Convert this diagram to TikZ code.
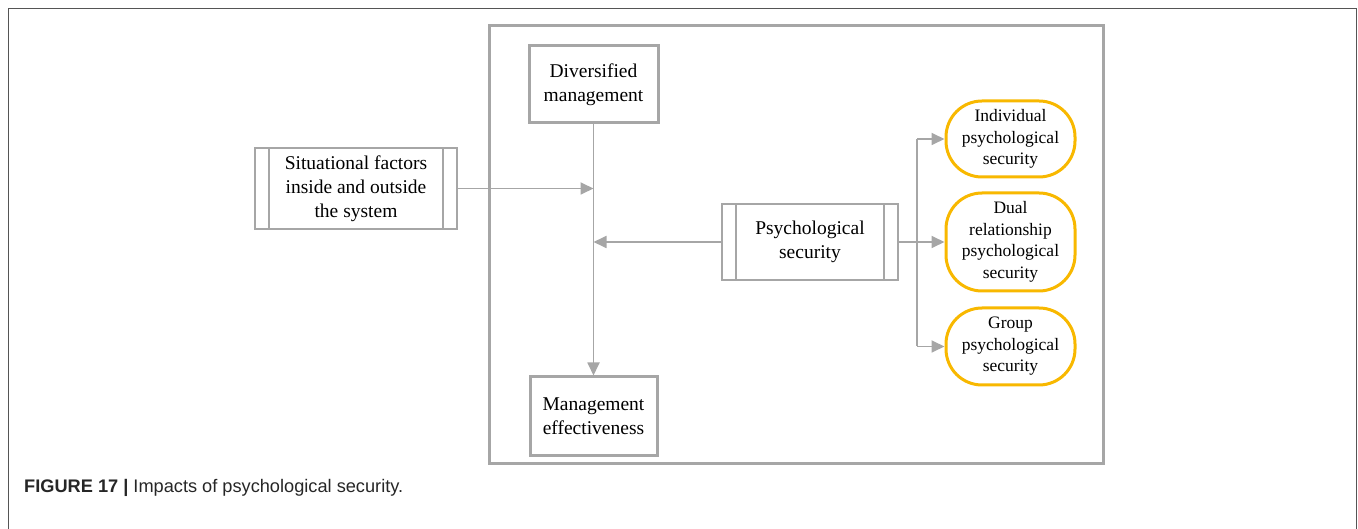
\documentclass[tikz,border=0pt]{standalone}
\usepackage{fontspec}
\setmainfont{Liberation Serif}
\newfontfamily\capfont{Liberation Sans}
\usetikzlibrary{arrows.meta}
\definecolor{linegray}{RGB}{166,166,166}
\definecolor{framegray}{RGB}{85,85,85}
\definecolor{ovalorange}{RGB}{248,184,0}
\tikzset{
  thickbox/.style={draw=linegray, line width=3pt, fill=white, align=center,
    font=\fontsize{19.5}{24}\selectfont, inner sep=0pt},
  procbox/.style={draw=linegray, line width=1.8pt, fill=white, align=center,
    font=\fontsize{19.5}{24}\selectfont, inner sep=0pt},
  ovalbox/.style={draw=ovalorange, line width=3pt, fill=white, align=center,
    rounded corners=36pt, font=\fontsize{17.5}{21.5}\selectfont, inner sep=0pt,
    minimum width=129pt},
  conn/.style={draw=linegray, line width=1.8pt},
  arr/.style={conn, -{Triangle[length=13pt,width=12pt]}, color=linegray}
}
\begin{document}
\begin{tikzpicture}[x=1pt,y=-1pt]
\useasboundingbox (0,0) rectangle (1358,529);
% page frame, open at the bottom
\draw[framegray, line width=1pt] (8.5,529) -- (8.5,8.5) -- (1356.5,8.5) -- (1356.5,529);
% system boundary
\draw[linegray, line width=3pt] (489,26) rectangle (1103,463);

% nodes
\node[thickbox, minimum width=129pt, minimum height=77pt] (dm) at (593.5,84.5) {Diversified\\management};
\node[thickbox, minimum width=127pt, minimum height=78pt] (me) at (593.5,416) {Management\\effectiveness};
\node[procbox, minimum width=202pt, minimum height=81pt] (sf) at (356,188.5) {Situational factors\\inside and outside\\the system};
\node[procbox, minimum width=176pt, minimum height=76pt] (ps) at (810,242) {Psychological\\security};
\node[ovalbox, minimum height=76pt] (ind) at (1010.5,139) {Individual\\psychological\\security};
\node[ovalbox, minimum height=98pt] (dual) at (1010.5,242) {Dual\\relationship\\psychological\\security};
\node[ovalbox, minimum height=77pt] (grp) at (1010.5,346.5) {Group\\psychological\\security};

% side bars of the process boxes
\foreach \n in {sf,ps}{
  \draw[conn] ([xshift=15pt]\n.north west) -- ([xshift=15pt]\n.south west);
  \draw[conn] ([xshift=-15pt]\n.north east) -- ([xshift=-15pt]\n.south east);
}

% connectors
\draw[arr] (dm.south) -- (me.north);
\draw[arr] (sf.east) -- (dm.south |- sf.east);
\draw[arr] (ps.west) -- (dm.south |- ps.west);
\coordinate (br) at (917,242);
\draw[conn] (ps.east) -- (br);
\draw[conn] (br |- ind.west) -- (br |- grp.west);
\draw[arr] (br |- ind.west) -- (ind.west);
\draw[arr] (br) -- (dual.west);
\draw[arr] (br |- grp.west) -- (grp.west);

% caption
\node[anchor=base west, inner sep=0pt, font=\capfont\fontsize{18.2}{22}\selectfont, text=black!85] (cap) at (24,492)
  {\textbf{FIGURE 17 |} Impacts of psychological security.};
\end{tikzpicture}
\end{document}
